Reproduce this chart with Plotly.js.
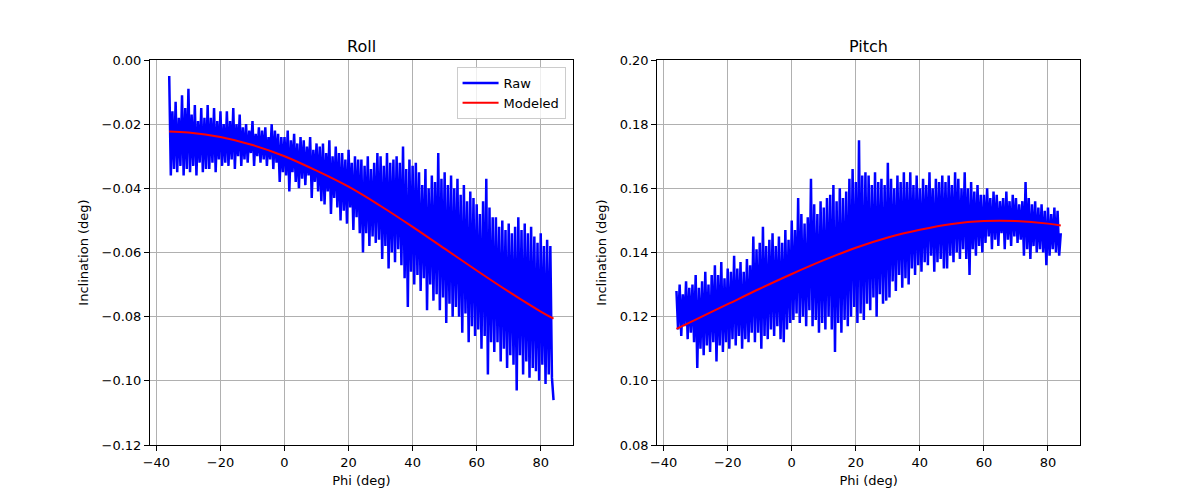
<!DOCTYPE html>
<html>
<head>
<meta charset="utf-8">
<script src="https://cdn.plot.ly/plotly-3.0.1.min.js"></script>
<style>html,body{margin:0;padding:0;background:#fff;}#chart{width:1200px;height:500px;}</style>
</head>
<body>
<div id="chart"></div>
<script>
// Sample angles (deg), one row per 6 degrees
const phi = [
-36,-35.5,-35,-34.5,-34,-33.5,-33,-32.5,-32,-31.5,-31,-30.5,
-30,-29.5,-29,-28.5,-28,-27.5,-27,-26.5,-26,-25.5,-25,-24.5,
-24,-23.5,-23,-22.5,-22,-21.5,-21,-20.5,-20,-19.5,-19,-18.5,
-18,-17.5,-17,-16.5,-16,-15.5,-15,-14.5,-14,-13.5,-13,-12.5,
-12,-11.5,-11,-10.5,-10,-9.5,-9,-8.5,-8,-7.5,-7,-6.5,
-6,-5.5,-5,-4.5,-4,-3.5,-3,-2.5,-2,-1.5,-1,-0.5,
0,0.5,1,1.5,2,2.5,3,3.5,4,4.5,5,5.5,
6,6.5,7,7.5,8,8.5,9,9.5,10,10.5,11,11.5,
12,12.5,13,13.5,14,14.5,15,15.5,16,16.5,17,17.5,
18,18.5,19,19.5,20,20.5,21,21.5,22,22.5,23,23.5,
24,24.5,25,25.5,26,26.5,27,27.5,28,28.5,29,29.5,
30,30.5,31,31.5,32,32.5,33,33.5,34,34.5,35,35.5,
36,36.5,37,37.5,38,38.5,39,39.5,40,40.5,41,41.5,
42,42.5,43,43.5,44,44.5,45,45.5,46,46.5,47,47.5,
48,48.5,49,49.5,50,50.5,51,51.5,52,52.5,53,53.5,
54,54.5,55,55.5,56,56.5,57,57.5,58,58.5,59,59.5,
60,60.5,61,61.5,62,62.5,63,63.5,64,64.5,65,65.5,
66,66.5,67,67.5,68,68.5,69,69.5,70,70.5,71,71.5,
72,72.5,73,73.5,74,74.5,75,75.5,76,76.5,77,77.5,
78,78.5,79,79.5,80,80.5,81,81.5,82,82.5,83,83.5,
84];

// Raw roll inclination (deg)
const rollRaw = [
-0.005,-0.036,-0.016,-0.034,-0.013,-0.035,-0.018,-0.033,-0.011,-0.036,-0.015,-0.034,
-0.009,-0.035,-0.017,-0.033,-0.014,-0.036,-0.019,-0.032,-0.015,-0.035,-0.018,-0.034,
-0.014,-0.034,-0.018,-0.032,-0.015,-0.035,-0.019,-0.031,-0.016,-0.033,-0.020,-0.032,
-0.016,-0.033,-0.019,-0.031,-0.015,-0.034,-0.020,-0.030,-0.017,-0.033,-0.021,-0.031,
-0.020,-0.032,-0.022,-0.029,-0.019,-0.033,-0.023,-0.030,-0.021,-0.032,-0.022,-0.031,
-0.021,-0.033,-0.024,-0.031,-0.020,-0.034,-0.022,-0.032,-0.023,-0.038,-0.024,-0.035,
-0.024,-0.036,-0.022,-0.041,-0.025,-0.035,-0.023,-0.038,-0.026,-0.040,-0.024,-0.037,
-0.025,-0.039,-0.027,-0.036,-0.024,-0.043,-0.028,-0.038,-0.026,-0.041,-0.027,-0.044,
-0.026,-0.045,-0.029,-0.041,-0.025,-0.048,-0.030,-0.043,-0.027,-0.046,-0.029,-0.050,
-0.029,-0.047,-0.031,-0.051,-0.028,-0.046,-0.032,-0.053,-0.030,-0.049,-0.031,-0.054,
-0.031,-0.060,-0.033,-0.054,-0.030,-0.058,-0.034,-0.055,-0.032,-0.057,-0.029,-0.056,
-0.030,-0.062,-0.033,-0.058,-0.029,-0.065,-0.032,-0.060,-0.031,-0.063,-0.030,-0.059,
-0.032,-0.064,-0.027,-0.068,-0.034,-0.077,-0.031,-0.066,-0.033,-0.070,-0.032,-0.067,
-0.035,-0.072,-0.039,-0.068,-0.034,-0.078,-0.040,-0.070,-0.036,-0.075,-0.038,-0.073,
-0.029,-0.078,-0.037,-0.074,-0.035,-0.082,-0.039,-0.076,-0.036,-0.080,-0.040,-0.077,
-0.037,-0.080,-0.042,-0.085,-0.039,-0.079,-0.044,-0.088,-0.041,-0.083,-0.043,-0.086,
-0.045,-0.084,-0.048,-0.090,-0.044,-0.086,-0.037,-0.098,-0.046,-0.088,-0.049,-0.091,
-0.049,-0.088,-0.052,-0.094,-0.050,-0.090,-0.053,-0.096,-0.051,-0.092,-0.054,-0.095,
-0.052,-0.103,-0.049,-0.092,-0.053,-0.098,-0.051,-0.094,-0.054,-0.099,-0.052,-0.096,
-0.055,-0.097,-0.057,-0.100,-0.054,-0.095,-0.058,-0.101,-0.056,-0.098,-0.058,-0.099,
-0.106];

// Raw pitch inclination (deg)
const pitchRaw = [
0.128,0.116,0.130,0.114,0.127,0.117,0.131,0.113,0.129,0.115,0.130,0.112,
0.133,0.104,0.129,0.110,0.131,0.108,0.134,0.111,0.130,0.109,0.133,0.112,
0.136,0.106,0.133,0.111,0.137,0.109,0.132,0.112,0.135,0.110,0.134,0.113,
0.139,0.111,0.135,0.114,0.137,0.110,0.134,0.113,0.138,0.112,0.136,0.115,
0.145,0.112,0.141,0.115,0.143,0.110,0.148,0.114,0.142,0.113,0.144,0.116,
0.146,0.114,0.142,0.117,0.145,0.113,0.143,0.112,0.147,0.116,0.144,0.118,
0.150,0.119,0.147,0.121,0.157,0.118,0.152,0.120,0.149,0.117,0.151,0.122,
0.163,0.117,0.155,0.119,0.152,0.115,0.156,0.118,0.154,0.116,0.157,0.120,
0.158,0.116,0.161,0.109,0.156,0.118,0.160,0.115,0.157,0.119,0.159,0.117,
0.163,0.120,0.166,0.123,0.162,0.118,0.175,0.121,0.164,0.119,0.165,0.124,
0.164,0.122,0.161,0.126,0.165,0.120,0.162,0.127,0.163,0.124,0.161,0.125,
0.168,0.126,0.163,0.131,0.160,0.128,0.164,0.133,0.162,0.129,0.165,0.132,
0.162,0.130,0.165,0.135,0.161,0.133,0.164,0.136,0.160,0.134,0.163,0.137,
0.161,0.136,0.165,0.139,0.160,0.134,0.163,0.137,0.162,0.138,0.164,0.135,
0.162,0.135,0.164,0.139,0.161,0.137,0.165,0.140,0.163,0.138,0.160,0.141,
0.165,0.138,0.160,0.133,0.162,0.141,0.159,0.139,0.161,0.142,0.158,0.140,
0.158,0.143,0.160,0.145,0.157,0.141,0.159,0.144,0.158,0.142,0.156,0.146,
0.157,0.141,0.159,0.144,0.156,0.142,0.158,0.145,0.157,0.143,0.155,0.144,
0.156,0.139,0.162,0.141,0.157,0.138,0.155,0.142,0.156,0.140,0.154,0.141,
0.155,0.140,0.153,0.136,0.154,0.139,0.152,0.141,0.154,0.140,0.153,0.139,
0.146];

// Modeled curves
const phiModel   = [-36, -30, -20, -10, 0, 10, 20, 30, 40, 50, 60, 70, 80, 84];
const rollModel  = [-0.0223,-0.0226,-0.0240,-0.0265,-0.0300,-0.0345,-0.0395,-0.0455,-0.0520,-0.0588,-0.0656,-0.0722,-0.0784,-0.0806];
const pitchModel = [0.1162,0.1191,0.1239,0.1287,0.1333,0.1376,0.1415,0.1447,0.1471,0.1489,0.1498,0.1498,0.1490,0.1484];

const xTicks = [-40, -20, 0, 20, 40, 60, 80];
const rollTicks = [-0.12, -0.10, -0.08, -0.06, -0.04, -0.02, 0.00];
const pitchTicks = [0.08, 0.10, 0.12, 0.14, 0.16, 0.18, 0.20];

const FONT = 'DejaVu Sans, sans-serif';

const traces = [
  {x: phi, y: rollRaw, type: 'scatter', mode: 'lines', name: 'Raw',
   line: {color: '#0000ff', width: 2.5, simplify: false}, xaxis: 'x', yaxis: 'y'},
  {x: phiModel, y: rollModel, type: 'scatter', mode: 'lines', name: 'Modeled',
   line: {color: '#ff0000', width: 2, shape: 'spline', smoothing: 1}, xaxis: 'x', yaxis: 'y'},
  {x: phi, y: pitchRaw, type: 'scatter', mode: 'lines', name: 'Raw', showlegend: false,
   line: {color: '#0000ff', width: 2.5, simplify: false}, xaxis: 'x2', yaxis: 'y2'},
  {x: phiModel, y: pitchModel, type: 'scatter', mode: 'lines', name: 'Modeled', showlegend: false,
   line: {color: '#ff0000', width: 2, shape: 'spline', smoothing: 1}, xaxis: 'x2', yaxis: 'y2'}
];

function xax(domain, anchor) {
  return {
    domain: domain, anchor: anchor, range: [-42, 90],
    tickvals: xTicks, ticktext: xTicks.map(v => v < 0 ? '\u2212' + Math.abs(v) : String(v)),
    ticks: 'outside', ticklen: 5, tickwidth: 1, tickcolor: '#000',
    showline: true, linecolor: '#000', linewidth: 1, mirror: true,
    showgrid: true, gridcolor: '#b0b0b0', gridwidth: 1, zeroline: false,
    tickfont: {family: FONT, size: 13, color: '#000'},
    title: {text: 'Phi (deg)', font: {family: FONT, size: 13, color: '#000'}, standoff: 7}
  };
}
function yax(domain, anchor, range, ticks) {
  return {
    domain: domain, anchor: anchor, range: range,
    tickvals: ticks, ticktext: ticks.map(v => v < 0 ? '\u2212' + Math.abs(v).toFixed(2) : v.toFixed(2)),
    ticks: 'outside', ticklen: 5, tickwidth: 1, tickcolor: '#000',
    showline: true, linecolor: '#000', linewidth: 1, mirror: true,
    showgrid: true, gridcolor: '#b0b0b0', gridwidth: 1, zeroline: false,
    tickfont: {family: FONT, size: 13, color: '#000'},
    title: {text: 'Inclination (deg)', font: {family: FONT, size: 13, color: '#000'}, standoff: 10}
  };
}

const layout = {
  width: 1200, height: 500,
  margin: {l: 0, r: 0, t: 0, b: 0},
  paper_bgcolor: '#fff', plot_bgcolor: '#fff',
  font: {family: FONT, color: '#000'},
  showlegend: true,
  legend: {
    x: 0.4773 - 0.006, xanchor: 'right', y: 0.88 - 0.014, yanchor: 'top',
    bgcolor: 'rgba(255,255,255,0.8)', bordercolor: '#cccccc', borderwidth: 1,
    font: {family: FONT, size: 13, color: '#000'}, tracegroupgap: 0, itemwidth: 36
  },
  xaxis: xax([0.125, 0.4773], 'y'),
  yaxis: yax([0.11, 0.88], 'x', [-0.12, 0.0], rollTicks),
  xaxis2: xax([0.5477, 0.9], 'y2'),
  yaxis2: yax([0.11, 0.88], 'x2', [0.08, 0.20], pitchTicks),
  annotations: [
    {text: 'Roll', xref: 'paper', yref: 'paper', x: (0.125 + 0.4773) / 2, y: 0.88,
     xanchor: 'center', yanchor: 'bottom', yshift: 2, showarrow: false,
     font: {family: FONT, size: 16, color: '#000'}},
    {text: 'Pitch', xref: 'paper', yref: 'paper', x: (0.5477 + 0.9) / 2, y: 0.88,
     xanchor: 'center', yanchor: 'bottom', yshift: 2, showarrow: false,
     font: {family: FONT, size: 16, color: '#000'}}
  ]
};

Plotly.newPlot('chart', traces, layout, {displayModeBar: false, staticPlot: true});
</script>
</body>
</html>
